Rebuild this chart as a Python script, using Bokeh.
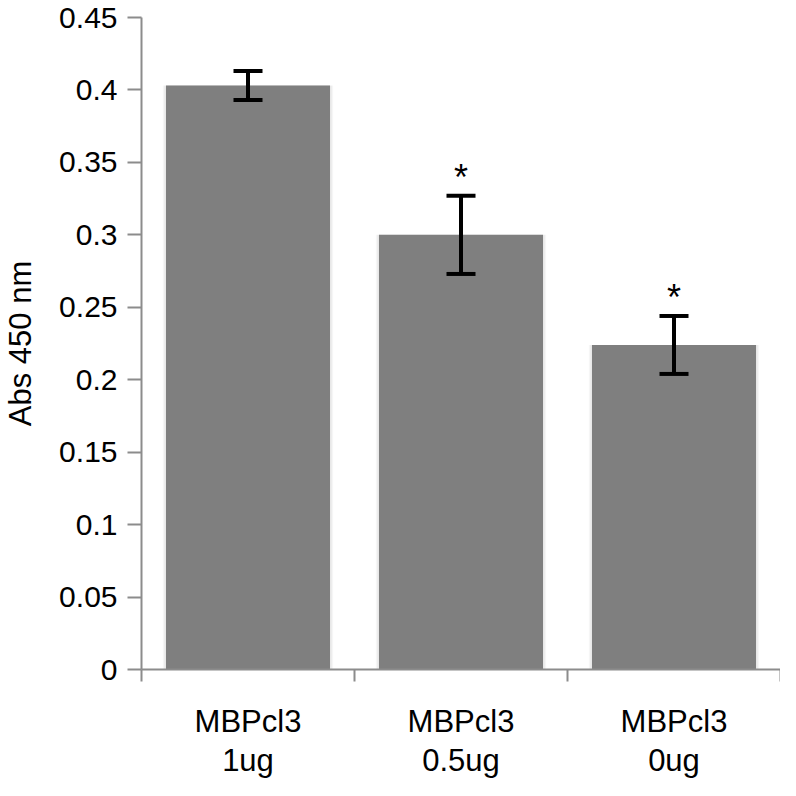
from bokeh.plotting import figure
from bokeh.models import (Range1d, FixedTicker, LinearAxis, CustomJSTickFormatter,
                          ColumnDataSource, Whisker, TeeHead)
from bokeh.core.properties import value
from bokeh.embed import file_html
from bokeh.resources import INLINE

# ---- data ----
categories = ["MBPcl3\n1ug", "MBPcl3\n0.5ug", "MBPcl3\n0ug"]
values = [0.403, 0.300, 0.224]
errors = [0.010, 0.027, 0.020]
marks = ["", "*", "*"]
y_ticks = [0, 0.05, 0.1, 0.15, 0.2, 0.25, 0.3, 0.35, 0.4, 0.45]
y_label = "Abs 450 nm"

n = len(categories)
xs = [i + 0.5 for i in range(n)]
line1 = [c.split("\n")[0] for c in categories]
line2 = [c.split("\n")[1] for c in categories]

src = ColumnDataSource(dict(
    x=xs, top=values,
    upper=[v + e for v, e in zip(values, errors)],
    lower=[v - e for v, e in zip(values, errors)],
    mark=marks,
))

FONT = "Liberation Sans"
AXIS_GRAY = "#8c8c8c"

p = figure(width=780, height=780, output_backend="svg", toolbar_location=None,
           x_range=Range1d(0, n), y_range=Range1d(0, y_ticks[-1]),
           min_border_left=134, min_border_right=0, min_border_top=17,
           min_border_bottom=0)
p.outline_line_color = None
p.grid.visible = False
p.background_fill_color = "white"

# soft shadow around bars
bw = 0.77
p.vbar(x="x", top="top", width=bw + 0.03, bottom=0, source=src,
       fill_color="#000000", fill_alpha=0.035, line_color=None)
p.vbar(x="x", top="top", width=bw + 0.016, bottom=0, source=src,
       fill_color="#000000", fill_alpha=0.05, line_color=None)
p.vbar(x="x", top="top", width=bw, bottom=0, source=src,
       fill_color="#7f7f7f", line_color=None)

w = Whisker(source=src, base="x", upper="upper", lower="lower",
            line_color="black", line_width=4, level="annotation",
            upper_head=TeeHead(size=29, line_width=4, line_color="black"),
            lower_head=TeeHead(size=29, line_width=4, line_color="black"))
p.add_layout(w)

p.text(x="x", y="upper", text="mark", source=src, text_align="center",
       text_baseline="alphabetic", y_offset=-18,
       text_font=value(FONT), text_font_size="36px", text_color="black")

# y axis
ya = p.yaxis[0]
ya.ticker = FixedTicker(ticks=y_ticks, minor_ticks=[])
ya.formatter = CustomJSTickFormatter(code="return String(Math.round(tick*100)/100)")
ya.axis_line_color = AXIS_GRAY
ya.axis_line_width = 2
ya.major_tick_line_color = AXIS_GRAY
ya.major_tick_line_width = 2
ya.major_tick_out = 14
ya.major_tick_in = 0
ya.minor_tick_line_color = None
ya.major_label_standoff = 10
ya.major_label_text_font = FONT
ya.major_label_text_font_size = "30px"
ya.major_label_text_color = "black"
ya.axis_label = y_label
ya.axis_label_text_font = FONT
ya.axis_label_text_font_size = "31px"
ya.axis_label_text_font_style = "normal"
ya.axis_label_text_color = "black"
ya.axis_label_standoff = 18

# x axis: first label line + boundary ticks
lab = "return labels[Math.floor(tick)]"
xa = p.xaxis[0]
xa.ticker = FixedTicker(ticks=xs, minor_ticks=list(range(n + 1)))
xa.formatter = CustomJSTickFormatter(args=dict(labels=line1), code=lab)
xa.axis_line_color = AXIS_GRAY
xa.axis_line_width = 2
xa.major_tick_line_color = None
xa.major_tick_out = 0
xa.major_tick_in = 0
xa.minor_tick_line_color = AXIS_GRAY
xa.minor_tick_line_width = 2
xa.minor_tick_out = 12
xa.minor_tick_in = 0
xa.major_label_standoff = 22
xa.major_label_text_font = FONT
xa.major_label_text_font_size = "31px"
xa.major_label_text_color = "black"

# second label line
xa2 = LinearAxis(ticker=FixedTicker(ticks=xs, minor_ticks=[]),
                 formatter=CustomJSTickFormatter(args=dict(labels=line2), code=lab))
xa2.axis_line_color = None
xa2.major_tick_line_color = None
xa2.minor_tick_line_color = None
xa2.major_tick_out = 0
xa2.major_tick_in = 0
xa2.minor_tick_out = 0
xa2.minor_tick_in = 0
xa2.major_label_standoff = 1
xa2.major_label_text_font = FONT
xa2.major_label_text_font_size = "31px"
xa2.major_label_text_color = "black"
p.add_layout(xa2, "below")

open("out.html", "w").write(file_html(p, INLINE))
